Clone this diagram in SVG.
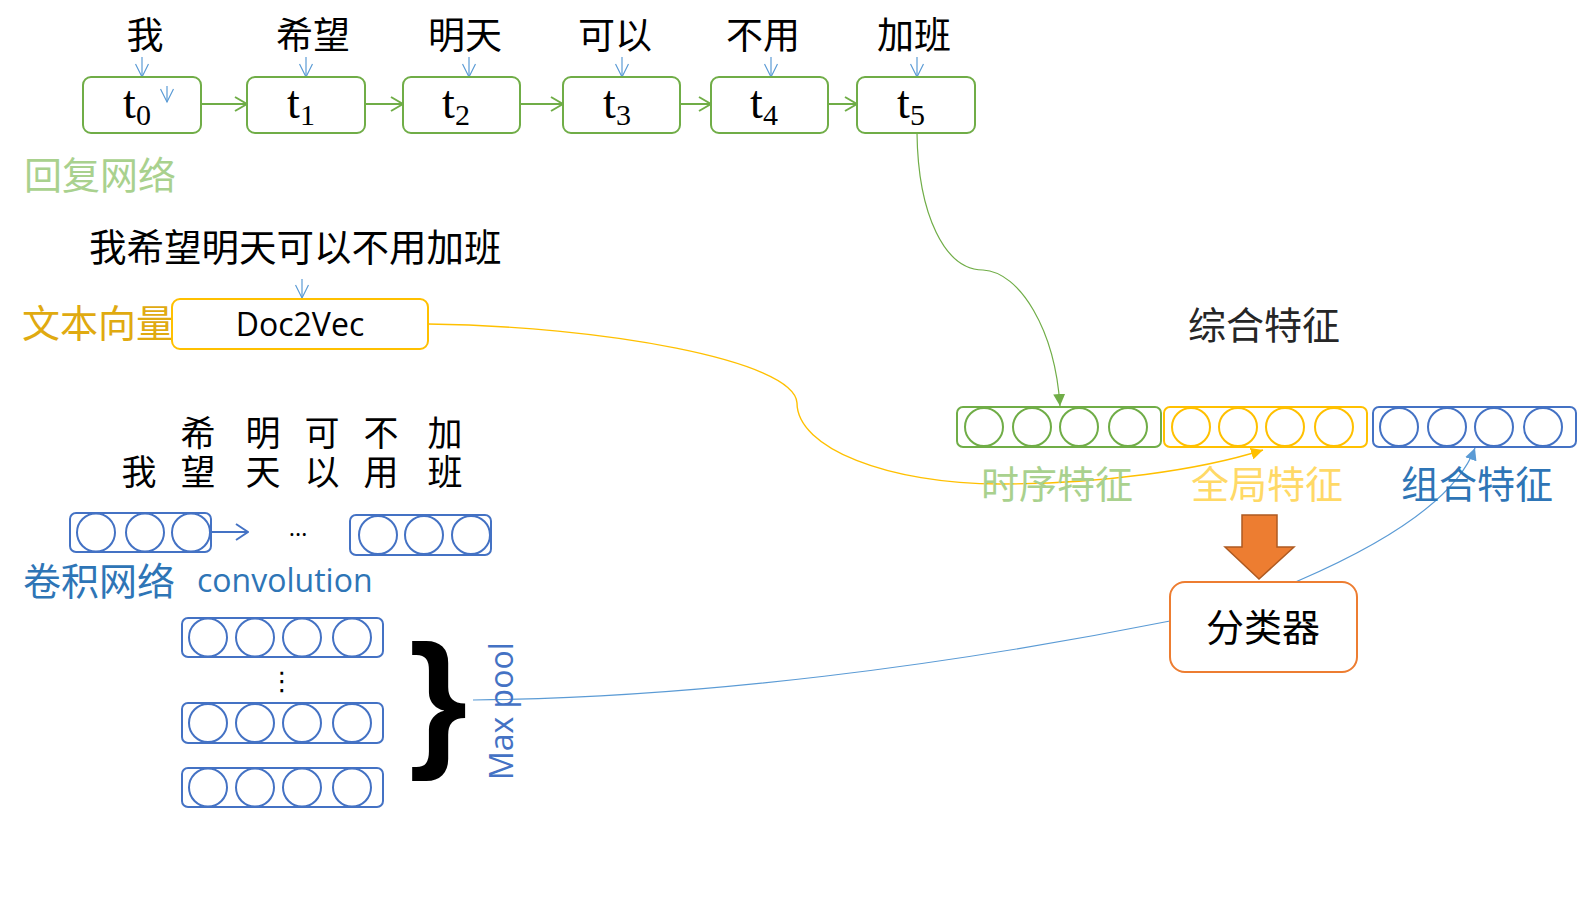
<svg xmlns="http://www.w3.org/2000/svg" width="1577" height="903" viewBox="0 0 1577 903">
<defs>
<style>
.cjk{font-family:"Noto Sans CJK SC","Noto Sans",sans-serif;}
.lat{font-family:"Open Sans","Liberation Sans",sans-serif;}
.word{font-size:37px;fill:#000;text-anchor:middle;}
.tl{font-family:"Liberation Serif","DejaVu Serif",serif;font-size:46px;fill:#000;text-anchor:middle;}
.gbox{fill:#fff;stroke:#70AD47;stroke-width:2;}
.ybox{fill:#fff;stroke:#FFC000;stroke-width:2;}
.bbox{fill:#fff;stroke:#4472C4;stroke-width:2;}
.gc{fill:none;stroke:#70AD47;stroke-width:2;}
.yc{fill:none;stroke:#FFC000;stroke-width:2;}
.bc{fill:none;stroke:#4472C4;stroke-width:2;}
.ga{fill:none;stroke:#70AD47;stroke-width:2;}
.la{fill:none;stroke:#5B9BD5;stroke-width:1.2;}
.big{font-size:38px;}
.cc{font-size:35px;fill:#000;text-anchor:middle;}
.vc{font-size:35px;fill:#000;writing-mode:vertical-rl;text-anchor:start;letter-spacing:4px;}
</style>
<marker id="vG" viewBox="0 0 14 16" refX="13" refY="8" markerWidth="14" markerHeight="16" orient="auto" markerUnits="userSpaceOnUse"><path d="M1,1 L13,8 L1,15" fill="none" stroke="#70AD47" stroke-width="2"/></marker>
<marker id="vL" viewBox="0 0 16 14" refX="14" refY="7" markerWidth="16" markerHeight="14" orient="auto" markerUnits="userSpaceOnUse"><path d="M1,0.5 L14,7 L1,13.5" fill="none" stroke="#5B9BD5" stroke-width="1.2"/></marker>
<marker id="vB" viewBox="0 0 14 18" refX="13" refY="9" markerWidth="14" markerHeight="18" orient="auto" markerUnits="userSpaceOnUse"><path d="M1,1 L13,9 L1,17" fill="none" stroke="#4472C4" stroke-width="2"/></marker>
<marker id="sG" viewBox="0 0 12 12" refX="12" refY="6" markerWidth="12" markerHeight="12" orient="auto" markerUnits="userSpaceOnUse"><path d="M0,0 L12,6 L0,12 Z" fill="#70AD47"/></marker>
<marker id="sY" viewBox="0 0 12 12" refX="12" refY="6" markerWidth="12" markerHeight="12" orient="auto" markerUnits="userSpaceOnUse"><path d="M0,0 L12,6 L0,12 Z" fill="#FFC000"/></marker>
<marker id="sB" viewBox="0 0 12 12" refX="12" refY="6" markerWidth="12" markerHeight="12" orient="auto" markerUnits="userSpaceOnUse"><path d="M0,0 L12,6 L0,12 Z" fill="#5B9BD5"/></marker>
</defs>
<rect width="1577" height="903" fill="#fff"/>

<g id="connectors">
<path d="M201,104 L247,104" class="ga" marker-end="url(#vG)"/>
<path d="M365,104 L403,104" class="ga" marker-end="url(#vG)"/>
<path d="M520,104 L563,104" class="ga" marker-end="url(#vG)"/>
<path d="M680,104 L711,104" class="ga" marker-end="url(#vG)"/>
<path d="M828,104 L857,104" class="ga" marker-end="url(#vG)"/>
<path d="M142,57 L142,77" class="la" marker-end="url(#vL)"/>
<path d="M306,57 L306,77" class="la" marker-end="url(#vL)"/>
<path d="M469,57 L469,77" class="la" marker-end="url(#vL)"/>
<path d="M622,57 L622,77" class="la" marker-end="url(#vL)"/>
<path d="M771,57 L771,77" class="la" marker-end="url(#vL)"/>
<path d="M917,57 L917,77" class="la" marker-end="url(#vL)"/>
<path d="M302,279 L302,298" class="la" marker-end="url(#vL)"/>
<path d="M917,133 C918,215 945,270 983,270 C1020,272 1055,330 1060,406" fill="none" stroke="#70AD47" stroke-width="1.2" marker-end="url(#sG)"/>
<path d="M428,324 C600,326 795,360 797,403 C797,448 888,484 1000,484 C1100,484 1200,470 1263,450" fill="none" stroke="#FFC000" stroke-width="1.4" marker-end="url(#sY)"/>
<path d="M473,700 C700,698 950,665 1170,621 C1220,611 1260,598 1300,580 Q1450,515 1475,448" fill="none" stroke="#5B9BD5" stroke-width="1.2" marker-end="url(#sB)"/>
<path d="M211,532 L248,532" class="bc" marker-end="url(#vB)"/>
</g>

<g id="words" class="cjk">
<text x="145" y="49" class="word">我</text>
<text x="313" y="49" class="word">希望</text>
<text x="465" y="49" class="word">明天</text>
<text x="615" y="49" class="word">可以</text>
<text x="763" y="49" class="word">不用</text>
<text x="914" y="49" class="word">加班</text>
</g>

<g id="node-t0"><rect x="83" y="77" width="118" height="56" rx="8" class="gbox"/><text x="137" y="118" class="tl">t<tspan font-size="30" dy="7">0</tspan></text></g>
<g id="node-t1"><rect x="247" y="77" width="118" height="56" rx="8" class="gbox"/><text x="301" y="118" class="tl">t<tspan font-size="30" dy="7">1</tspan></text></g>
<g id="node-t2"><rect x="403" y="77" width="117" height="56" rx="8" class="gbox"/><text x="456" y="118" class="tl">t<tspan font-size="30" dy="7">2</tspan></text></g>
<g id="node-t3"><rect x="563" y="77" width="117" height="56" rx="8" class="gbox"/><text x="617" y="118" class="tl">t<tspan font-size="30" dy="7">3</tspan></text></g>
<g id="node-t4"><rect x="711" y="77" width="117" height="56" rx="8" class="gbox"/><text x="764" y="118" class="tl">t<tspan font-size="30" dy="7">4</tspan></text></g>
<g id="node-t5"><rect x="857" y="77" width="118" height="56" rx="8" class="gbox"/><text x="911" y="118" class="tl">t<tspan font-size="30" dy="7">5</tspan></text></g>
<path id="t0-inner-arrow" d="M167,86 L167,102" class="la" marker-end="url(#vL)"/>

<text id="label-rnn" x="24" y="189" class="cjk big" fill="#A9D18E">回复网络</text>
<text id="sentence" x="89" y="261" class="cjk" font-size="37.5" fill="#000">我希望明天可以不用加班</text>
<text id="label-docvec" x="22" y="337" class="cjk big" fill="#E0AA10">文本向量</text>

<g id="node-doc2vec"><rect x="172" y="299" width="256" height="50" rx="8" class="ybox"/><text x="300" y="336" class="lat" font-size="32" text-anchor="middle" fill="#000">Doc2Vec</text></g>

<g id="conv-chars" class="cjk">
<text x="139" y="485" class="cc">我</text>
<text x="198" y="415" class="vc">希望</text>
<text x="263" y="415" class="vc">明天</text>
<text x="322" y="415" class="vc">可以</text>
<text x="381" y="415" class="vc">不用</text>
<text x="445" y="415" class="vc">加班</text>
</g>

<g id="node-conv-in1"><rect x="70" y="513" width="141" height="39" rx="6" class="bbox"/><circle cx="96" cy="532.5" r="19" class="bc"/><circle cx="145" cy="532.5" r="19" class="bc"/><circle cx="191" cy="532.5" r="19" class="bc"/></g>
<text id="hdots" x="298" y="536" class="lat" font-size="24" text-anchor="middle" fill="#000">…</text>
<g id="node-conv-in2"><rect x="350" y="515" width="141" height="40" rx="6" class="bbox"/><circle cx="378" cy="535" r="19" class="bc"/><circle cx="424" cy="535" r="19" class="bc"/><circle cx="471" cy="535" r="19" class="bc"/></g>

<text id="label-cnn" x="23" y="595" class="cjk big" fill="#2E75B6">卷积网络</text>
<text id="label-convolution" x="197" y="592" class="lat" font-size="32" fill="#2E75B6">convolution</text>

<g id="node-fm1"><rect x="182" y="618" width="201" height="39" rx="6" class="bbox"/><circle cx="208" cy="637.5" r="19" class="bc"/><circle cx="255" cy="637.5" r="19" class="bc"/><circle cx="302" cy="637.5" r="19" class="bc"/><circle cx="352" cy="637.5" r="19" class="bc"/></g>
<text id="vdots" x="282" y="690" font-family="DejaVu Sans,sans-serif" font-size="26" text-anchor="middle" fill="#000">⋮</text>
<g id="node-fm2"><rect x="182" y="703" width="201" height="40" rx="6" class="bbox"/><circle cx="208" cy="723" r="19" class="bc"/><circle cx="255" cy="723" r="19" class="bc"/><circle cx="302" cy="723" r="19" class="bc"/><circle cx="352" cy="723" r="19" class="bc"/></g>
<g id="node-fm3"><rect x="182" y="768" width="201" height="39" rx="6" class="bbox"/><circle cx="208" cy="787.5" r="19" class="bc"/><circle cx="255" cy="787.5" r="19" class="bc"/><circle cx="302" cy="787.5" r="19" class="bc"/><circle cx="352" cy="787.5" r="19" class="bc"/></g>

<text id="brace" x="409" y="750" font-family="Liberation Sans,sans-serif" font-weight="bold" font-size="150" fill="#000">}</text>
<text id="label-maxpool" transform="translate(513,780) rotate(-90)" class="lat" font-size="32" fill="#4472C4">Max pool</text>

<text id="label-combined" x="1264" y="339" class="cjk big" text-anchor="middle" fill="#262626">综合特征</text>

<g id="node-seq-feat"><rect x="957" y="407" width="204" height="40" rx="6" class="gbox"/><circle cx="984" cy="427" r="19" class="gc"/><circle cx="1032" cy="427" r="19" class="gc"/><circle cx="1079" cy="427" r="19" class="gc"/><circle cx="1128" cy="427" r="19" class="gc"/></g>
<g id="node-glob-feat"><rect x="1164" y="407" width="203" height="40" rx="6" class="ybox"/><circle cx="1191" cy="427" r="19" class="yc"/><circle cx="1238" cy="427" r="19" class="yc"/><circle cx="1285" cy="427" r="19" class="yc"/><circle cx="1334" cy="427" r="19" class="yc"/></g>
<g id="node-comb-feat"><rect x="1373" y="407" width="203" height="40" rx="6" class="bbox"/><circle cx="1399" cy="427" r="19" class="bc"/><circle cx="1447" cy="427" r="19" class="bc"/><circle cx="1494" cy="427" r="19" class="bc"/><circle cx="1543" cy="427" r="19" class="bc"/></g>

<text id="label-seq" x="1057" y="498" class="cjk big" text-anchor="middle" fill="#A9D18E">时序特征</text>
<text id="label-glob" x="1267" y="498" class="cjk big" text-anchor="middle" fill="#FFD966">全局特征</text>
<text id="label-comb" x="1477" y="498" class="cjk big" text-anchor="middle" fill="#2E75B6">组合特征</text>

<polygon id="block-arrow" points="1242,515 1277,515 1277,547 1294,547 1259,579 1225,547 1242,547" fill="#ED7D31" stroke="#AE5A21" stroke-width="1.5"/>

<g id="node-classifier"><rect x="1170" y="582" width="187" height="90" rx="15" fill="#fff" stroke="#ED7D31" stroke-width="2"/><text x="1263" y="641" class="cjk" font-size="38" text-anchor="middle" fill="#000">分类器</text></g>
</svg>
